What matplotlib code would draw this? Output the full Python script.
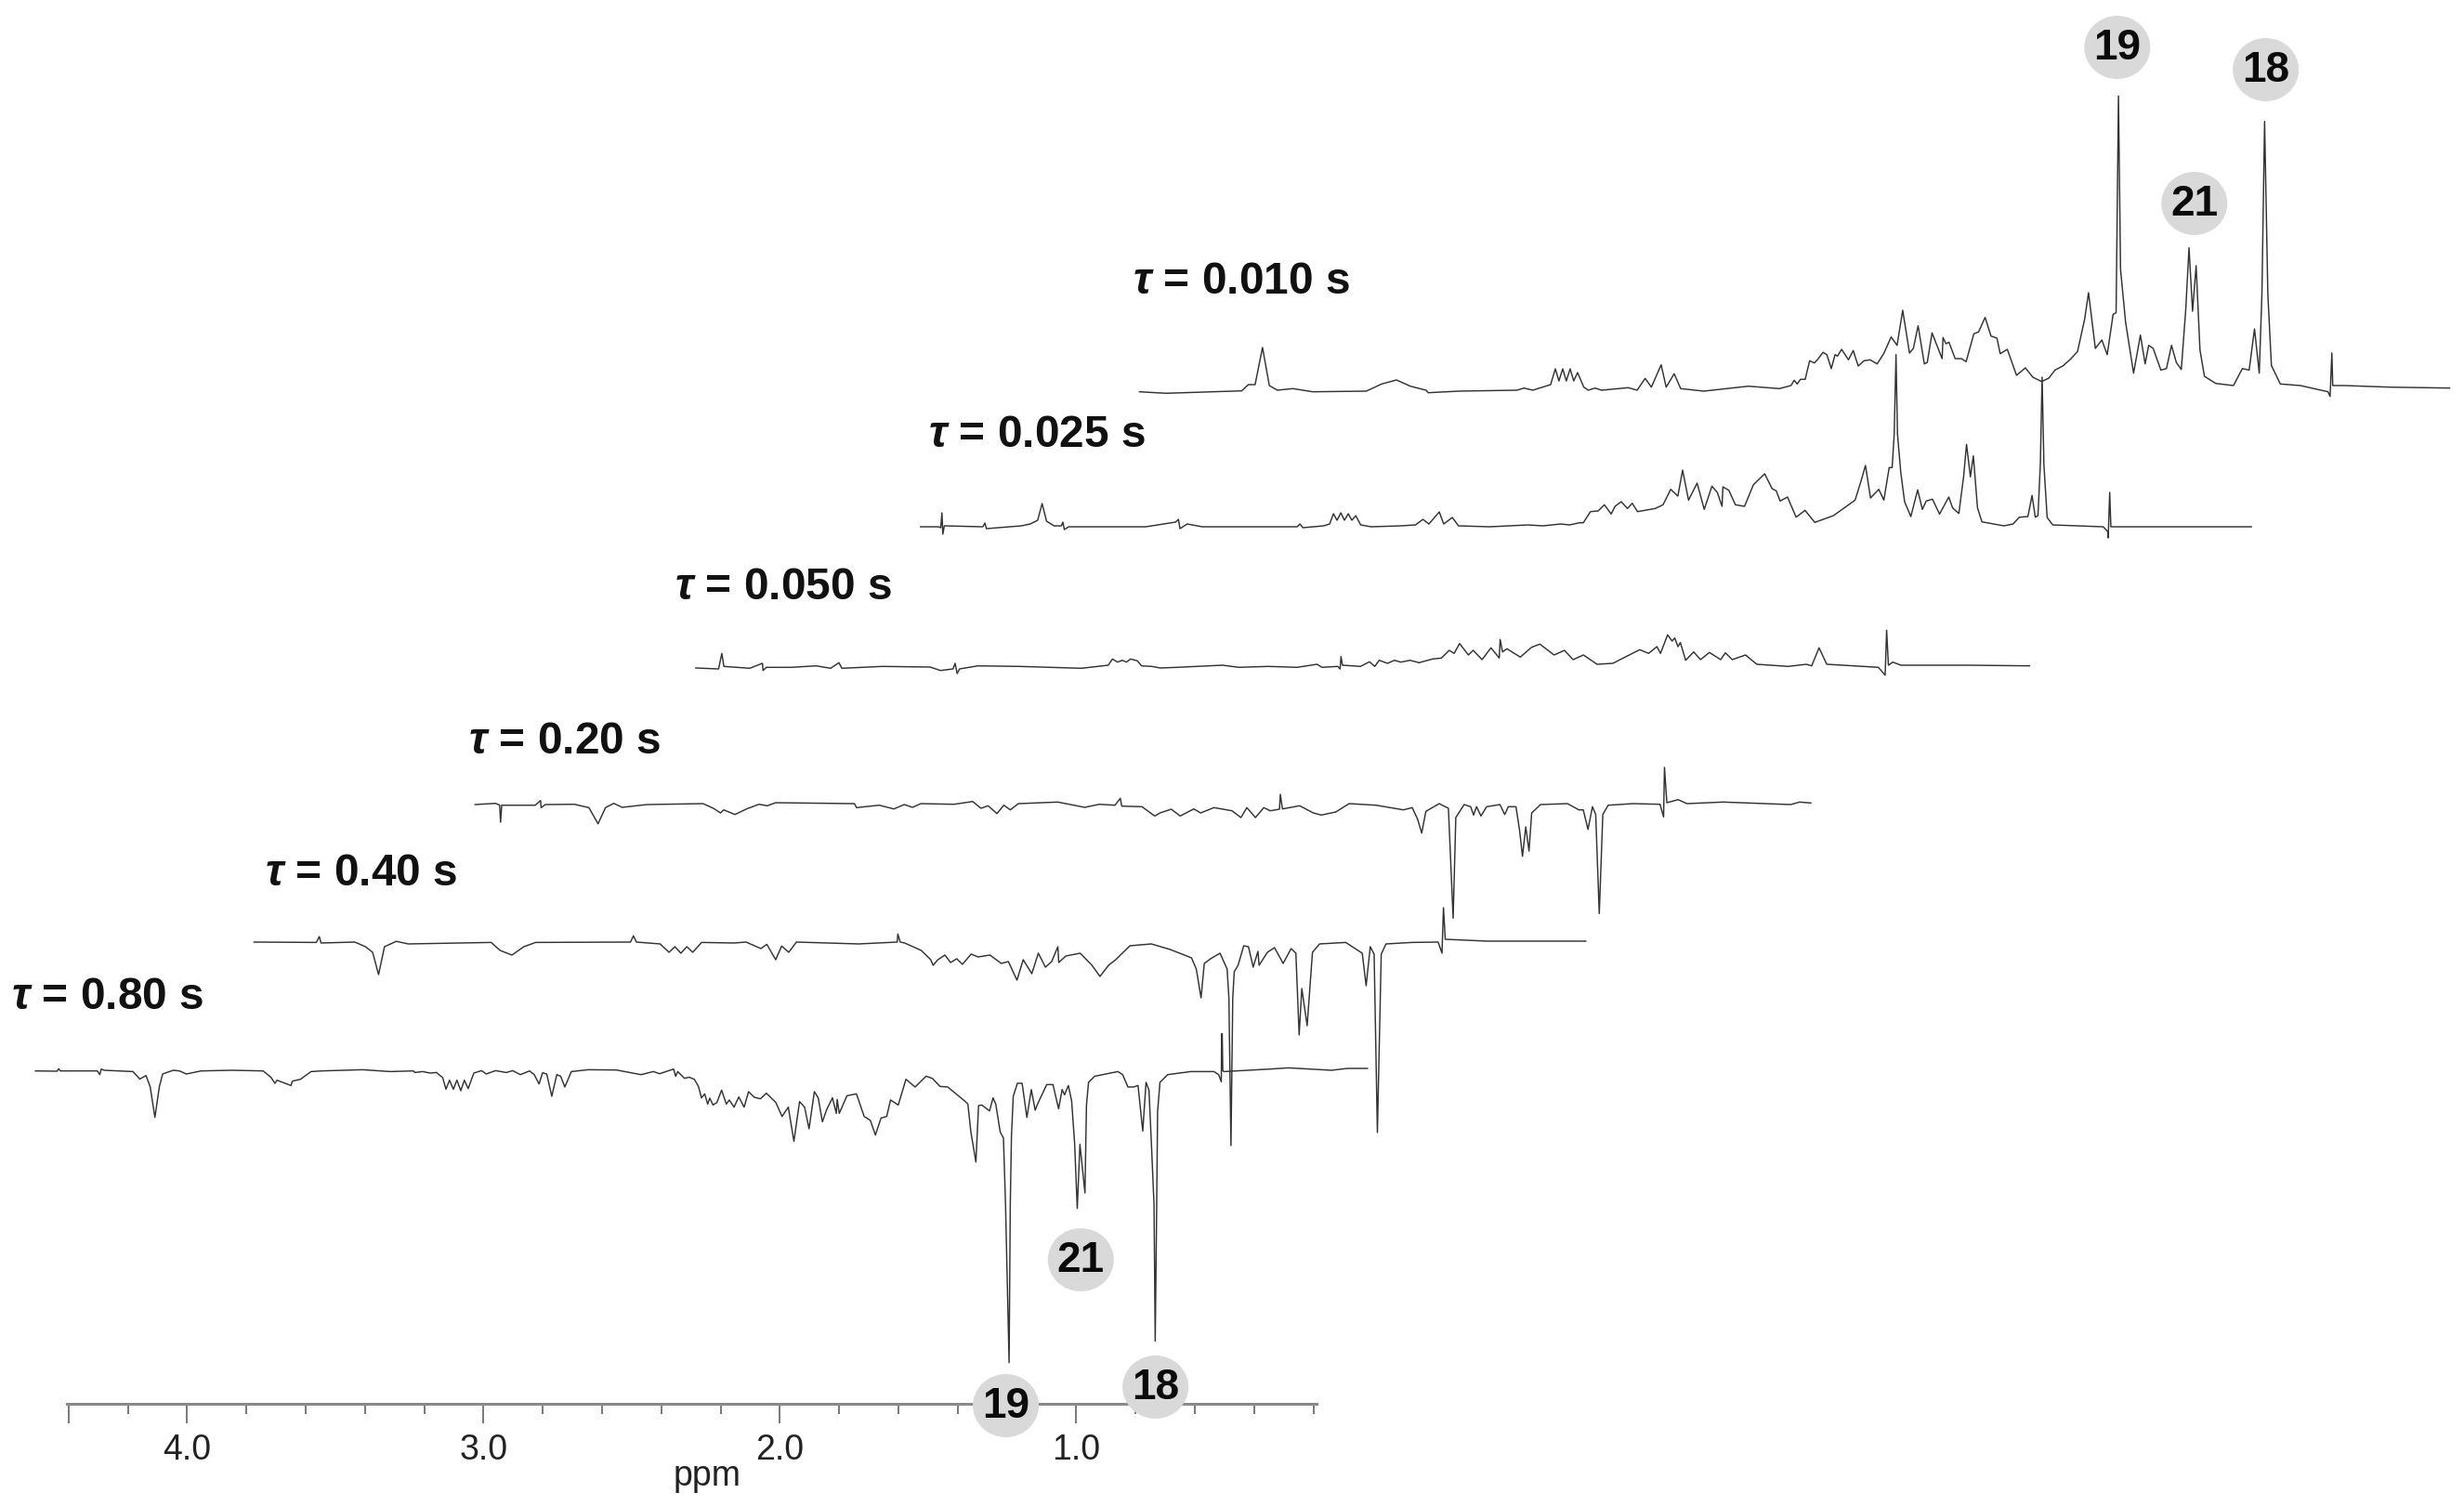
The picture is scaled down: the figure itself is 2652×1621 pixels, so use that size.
import numpy as np
import matplotlib
matplotlib.use('Agg')
import matplotlib.pyplot as plt
from matplotlib.patches import Ellipse

plt.rcParams['font.family'] = ['Liberation Sans', 'DejaVu Sans']
plt.rcParams['mathtext.fontset'] = 'custom'
plt.rcParams['mathtext.bfit'] = 'Liberation Sans:italic:bold'

# every trace is (ppm, intensity), ppm as it would read on the ruler for the front spectrum
spec_080 = [(4.512, 0), (4.439, -0.3), (4.434, 2.3), (4.428, 0), (4.303, 0), (4.295, -4), (4.290, 2), (4.280, 0.7),
            (4.183, -0.7), (4.160, -8.7), (4.139, -5), (4.125, -17), (4.109, -50), (4.094, -17), (4.083, -3.3),
            (4.047, 0.7), (4.026, 0), (4.003, -3.3), (3.953, 0), (3.848, 0.7), (3.744, 0), (3.718, -6.7),
            (3.704, -13.3), (3.697, -10), (3.650, -15.7), (3.645, -11), (3.618, -9), (3.582, -0.7), (3.545, 0),
            (3.409, 1.3), (3.315, -0.7), (3.237, 0), (3.232, -1.7), (3.206, -0.7), (3.180, -2.3), (3.159, -1.7),
            (3.138, -7.3), (3.127, -19.7), (3.115, -10), (3.102, -19.7), (3.090, -10), (3.077, -21.3), (3.065, -10),
            (3.052, -19), (3.033, -2.3), (3.007, 0.3), (2.991, -3.3), (2.960, 0.3), (2.923, -1.7), (2.902, 0.3),
            (2.876, -4), (2.845, 0), (2.829, -4), (2.813, -14), (2.801, -2), (2.787, -3.3), (2.770, -27.3),
            (2.753, -4), (2.740, -5.7), (2.726, -17.3), (2.704, -0.7), (2.646, 1.3), (2.552, 1), (2.469, -4),
            (2.427, -0.7), (2.406, -3), (2.359, 2), (2.352, -5.7), (2.345, -0.7), (2.322, -8), (2.307, -6.7),
            (2.289, -9), (2.275, -16.7), (2.265, -29), (2.254, -24.7), (2.244, -35.7), (2.237, -29.3), (2.226, -36.7),
            (2.213, -34), (2.197, -20.7), (2.181, -35.7), (2.171, -31.3), (2.155, -39), (2.139, -28), (2.121, -39),
            (2.106, -22.3), (2.087, -28.3), (2.066, -30), (2.046, -24), (2.014, -34), (1.993, -49), (1.972, -39),
            (1.953, -75.7), (1.934, -33), (1.917, -39), (1.902, -62.3), (1.884, -22.3), (1.871, -29), (1.857, -54.7),
            (1.842, -41.3), (1.823, -29), (1.810, -45.7), (1.807, -30.7), (1.800, -45.7), (1.774, -26.7),
            (1.742, -24.7), (1.716, -49), (1.695, -53.3), (1.678, -69), (1.659, -50.7), (1.640, -49), (1.627, -31.3),
            (1.601, -36.7), (1.575, -9), (1.544, -17.3), (1.507, -5.7), (1.486, -8), (1.460, -16.7), (1.434, -17.3),
            (1.377, -32.3), (1.366, -35.7), (1.356, -65.7), (1.339, -98), (1.330, -37.3), (1.319, -36.7),
            (1.293, -43), (1.281, -29), (1.272, -35.7), (1.257, -65.7), (1.246, -72.3), (1.239, -144), (1.227, -314),
            (1.223, -144), (1.219, -70), (1.213, -27.3), (1.199, -13.3), (1.183, -13.3), (1.167, -50), (1.152, -20),
            (1.139, -42.3), (1.131, -35.7), (1.100, -14.7), (1.079, -14.7), (1.060, -40.7), (1.048, -20),
            (1.040, -25.7), (1.027, -15.7), (1.016, -32.3), (1.006, -77.3), (0.997, -148), (0.988, -79),
            (0.971, -131.3), (0.966, -37.3), (0.959, -12.3), (0.938, -5.7), (0.860, -0.7), (0.844, -4), (0.826, -17.3),
            (0.807, -17.3), (0.792, -15.7), (0.776, -64.7), (0.765, -12.3), (0.755, -20.7), (0.747, -77),
            (0.738, -144), (0.734, -290.7), (0.729, -144), (0.726, -44), (0.718, -12.3), (0.692, -4), (0.614, -0.7),
            (0.536, -0.7), (0.520, -4), (0.511, -11.7), (0.510, 40), (0.508, 40), (0.506, 0), (0.501, -0.7),
            (0.347, 2), (0.285, 3.3), (0.139, 0.7), (0.086, 2.7), (0.018, 2.7)]

spec_040 = [(4.523, 0), (4.313, -0.4), (4.303, 5.9), (4.297, -1), (4.183, 0), (4.147, -5), (4.123, -11), (4.103, -35),
            (4.083, -5), (4.043, 0.8), (4.003, -2), (3.723, -0.4), (3.693, -9), (3.653, -14), (3.613, -5),
            (3.573, -0.4), (3.253, 0), (3.243, 6.7), (3.233, 0), (3.153, -2), (3.123, -11), (3.103, -5), (3.083, -12),
            (3.063, -5), (3.043, -11), (3.013, -0.4), (2.903, -1), (2.863, 0), (2.813, -7), (2.793, -2.4),
            (2.763, -19), (2.743, -4.3), (2.719, -11), (2.693, 0), (2.483, -2), (2.353, 0), (2.351, 8.7), (2.343, 0),
            (2.328, -1), (2.272, -9), (2.240, -19), (2.232, -25), (2.216, -19), (2.192, -14), (2.173, -22),
            (2.152, -18), (2.133, -24), (2.104, -13), (2.080, -16), (2.040, -14), (2.002, -23), (1.978, -21),
            (1.949, -41), (1.928, -19), (1.899, -34), (1.877, -12), (1.853, -27), (1.832, -21), (1.811, -5),
            (1.808, -22), (1.784, -15), (1.736, -12), (1.696, -25), (1.669, -37), (1.640, -25), (1.616, -19),
            (1.568, -4), (1.496, -2), (1.432, -8), (1.360, -17), (1.344, -29), (1.328, -60), (1.317, -23),
            (1.296, -18), (1.264, -12), (1.240, -29), (1.234, -60), (1.227, -219), (1.221, -60), (1.216, -32),
            (1.203, -25), (1.184, -4), (1.168, -5), (1.152, -27), (1.136, -10), (1.132, -25), (1.104, -11),
            (1.080, -6), (1.051, -23), (1.024, -7), (1.008, -12), (0.997, -100), (0.988, -50), (0.970, -90),
            (0.952, -11), (0.928, -2), (0.840, -0.4), (0.808, -7), (0.784, -12), (0.771, -47), (0.757, -5),
            (0.744, -13), (0.733, -205), (0.720, -13), (0.704, -2), (0.616, -0.4), (0.528, 0), (0.515, -12),
            (0.510, 37), (0.504, 3), (0.363, 1), (0.2, 1), (0.03, 1)]

spec_020 = [(4.526, 0), (4.457, 1.3), (4.443, -0.7), (4.440, -19), (4.436, -0.7), (4.323, -0.7), (4.305, 4.3),
            (4.303, -3.3), (4.289, 0), (4.191, 0.3), (4.142, -3.3), (4.111, -20.7), (4.086, -3.3), (4.058, 1.3),
            (4.030, -3), (3.946, 0), (3.757, 1), (3.722, -4), (3.698, -9), (3.687, -5.7), (3.649, -10.7),
            (3.610, -4.7), (3.568, 0.3), (3.540, -1.3), (3.512, 2), (3.246, 1), (3.239, -3.3), (3.162, -0.7),
            (3.113, -4.7), (3.078, 0), (3.050, -3), (3.022, 1), (2.910, 0.3), (2.847, 3.3), (2.819, -4), (2.795, -1.3),
            (2.765, -9.7), (2.742, -0.7), (2.720, -5.7), (2.693, 1), (2.560, 2.7), (2.469, -3), (2.420, 0.3),
            (2.367, -0.7), (2.349, 6.7), (2.344, -1.7), (2.276, -2.3), (2.233, -12.3), (2.215, -9), (2.177, -5),
            (2.147, -12.3), (2.101, -4.7), (2.078, -9), (2.033, -3.3), (1.972, -6.7), (1.942, -14), (1.922, -3.3),
            (1.893, -14), (1.865, -3.3), (1.843, -6.7), (1.812, -5), (1.809, 11), (1.802, -4.7), (1.744, -1.3),
            (1.698, -9), (1.671, -11.3), (1.622, -8), (1.577, 1), (1.486, -0.7), (1.394, -5.7), (1.364, -3.3),
            (1.346, -15.7), (1.332, -30.7), (1.318, -7.3), (1.273, 1), (1.242, -4), (1.226, -122.3), (1.217, -14),
            (1.189, 0), (1.167, -2.3), (1.157, -11.3), (1.147, -2.3), (1.132, -12.3), (1.113, -2.3), (1.068, 0),
            (1.052, -10.7), (1.040, -2.3), (1.014, -2.3), (1.002, -27.3), (0.992, -55.7), (0.981, -24), (0.970, -50),
            (0.961, -9), (0.931, 0), (0.840, 1), (0.802, -5.7), (0.787, -5.7), (0.771, -26.7), (0.756, -2.3),
            (0.745, -10.7), (0.733, -117.3), (0.721, -10.7), (0.703, -0.7), (0.619, 1), (0.528, 0.3), (0.516, -13.3),
            (0.513, 40), (0.505, 2), (0.467, 5.3), (0.437, 1), (0.315, 2.7), (0.087, 0), (0.057, 2.7), (0.019, 1.7)]

spec_0050 = [(4.530, 0), (4.453, -1), (4.442, 15.7), (4.435, 1.7), (4.348, -0.3), (4.305, 5), (4.303, -2.7), (4.292, 0.7),
             (4.208, 0.7), (4.124, 2.3), (4.075, -0.3), (4.047, 5.7), (4.037, -0.3), (3.900, 1.7), (3.739, 1),
             (3.704, -2.7), (3.662, -1), (3.655, 5), (3.648, -6), (3.640, -1), (3.578, 2.3), (3.439, 1.7), (3.229, -0.3),
             (3.138, 3), (3.124, 9.7), (3.107, 6.3), (3.091, 8.3), (3.077, 6.3), (3.063, 9.7), (3.040, 7.7),
             (3.026, 2.3), (2.991, 1.7), (2.963, 0), (2.907, 0.7), (2.753, 3), (2.697, 0.7), (2.599, 1.7), (2.501, 0.7),
             (2.434, 4), (2.417, 0.7), (2.364, 1.7), (2.356, -1), (2.353, 12.3), (2.348, 3), (2.287, 1.7), (2.257, 6.7),
             (2.239, 1.7), (2.224, 8.3), (2.196, 5), (2.173, 8.3), (2.151, 6.3), (2.120, 8.3), (2.090, 5.7),
             (2.044, 9.7), (2.014, 10.7), (1.988, 19), (1.971, 15.7), (1.953, 26.3), (1.923, 14), (1.907, 19),
             (1.877, 9), (1.847, 21.7), (1.819, 10.7), (1.816, 30.7), (1.808, 17.3), (1.793, 20.7), (1.748, 11.7),
             (1.710, 22.3), (1.682, 25.7), (1.634, 14), (1.599, 19), (1.570, 9), (1.535, 14), (1.489, 4), (1.436, 5),
             (1.345, 19.7), (1.315, 15.7), (1.287, 23), (1.275, 15.7), (1.251, 35.7), (1.236, 29), (1.227, 32.3),
             (1.216, 23), (1.208, 27.3), (1.190, 8.3), (1.163, 17.3), (1.140, 9), (1.110, 16.7), (1.072, 9),
             (1.056, 16.3), (1.033, 9), (0.988, 14), (0.950, 4), (0.844, 1.7), (0.783, 4), (0.765, 2.3), (0.740, 21.7),
             (0.714, 4), (0.623, 2.3), (0.540, 0.7), (0.517, -7.7), (0.512, 40.7), (0.506, 3), (0.491, 6.3),
             (0.464, 3), (0.236, 3), (0.030, 2.3)]

spec_0025 = [(4.52, 0), (4.46, 0), (4.452, -1), (4.448, 15), (4.445, -8), (4.44, 1), (4.31, 0), (4.303, 4), (4.298, -2),
             (4.18, 1), (4.15, 3), (4.125, 7), (4.11, 25), (4.095, 6), (4.07, 1), (4.045, 1), (4.04, 5), (4.035, -3),
             (4.02, 0), (3.76, 0), (3.70, 3), (3.66, 5), (3.65, 8), (3.645, -2), (3.62, 3), (3.57, 0), (3.25, 0),
             (3.24, 3), (3.23, -1), (3.16, 1), (3.14, 3), (3.127, 14), (3.115, 7), (3.102, 15), (3.09, 7), (3.077, 14),
             (3.065, 7), (3.052, 12), (3.035, 2), (3.0, 0), (2.9, 1), (2.85, 2), (2.825, 8), (2.805, 3), (2.77, 16),
             (2.755, 3), (2.726, 10), (2.705, 1), (2.6, 0), (2.47, 2), (2.42, 1), (2.36, 3), (2.33, 2),
             (2.297, 4.3), (2.284, 4.3), (2.260, 16.3), (2.234, 17), (2.213, 23.7), (2.190, 13.7), (2.177, 22),
             (2.156, 27), (2.135, 19.7), (2.119, 25.3), (2.101, 16.3), (2.041, 19.7), (2.015, 23.7), (1.989, 40.3),
             (1.965, 33), (1.949, 61), (1.929, 28.7), (1.900, 47), (1.876, 18.7), (1.850, 43.7), (1.832, 37),
             (1.816, 22), (1.813, 43), (1.793, 39.3), (1.771, 23.7), (1.740, 22), (1.710, 45.3), (1.672, 57),
             (1.647, 41), (1.633, 38.7), (1.620, 27.7), (1.595, 32), (1.566, 10.3), (1.536, 17.7), (1.503, 4.7),
             (1.440, 12), (1.367, 28.7), (1.346, 50.3), (1.332, 66), (1.315, 31), (1.287, 40.3), (1.270, 28.7),
             (1.252, 63.7), (1.242, 63.7), (1.235, 100), (1.229, 185.3), (1.224, 100), (1.213, 58.7), (1.200, 27),
             (1.179, 11), (1.156, 39.7), (1.140, 18.7), (1.127, 27.7), (1.106, 29.7), (1.082, 13.7), (1.051, 32),
             (1.038, 20.3), (1.017, 14.3), (1.001, 53.7), (0.991, 88.7), (0.978, 53.7), (0.968, 76.3), (0.954, 20.3),
             (0.939, 5.3), (0.865, 1), (0.834, 3), (0.813, 10.3), (0.784, 11), (0.770, 33.7), (0.759, 10.3),
             (0.750, 12), (0.742, 67), (0.736, 161), (0.730, 67), (0.719, 10), (0.70, 2), (0.53, 0), (0.515, -5),
             (0.513, -12), (0.508, 37), (0.504, 0), (0.4, 0), (0.03, 0)]

spec_0010 = [(4.530, -0.7), (4.440, -2.3), (4.185, 0.3), (4.163, 7), (4.140, 7), (4.115, 47), (4.092, 6), (4.065, 1),
             (4.013, 2.7), (3.945, -0.7), (3.765, 0), (3.713, 7.7), (3.663, 12), (3.616, 5.3), (3.563, 1), (3.556, -1.7),
             (3.451, 0), (3.256, 1), (3.233, 3.3), (3.203, 1), (3.143, 7), (3.127, 24), (3.115, 11), (3.102, 24),
             (3.090, 11), (3.077, 24), (3.065, 11), (3.052, 20), (3.031, 4.3), (3.016, 1), (2.993, 3.3), (2.971, 1),
             (2.881, 3.7), (2.851, 1), (2.824, 13.7), (2.803, 4.3), (2.770, 28.3), (2.753, 4.3), (2.726, 18.7),
             (2.704, 2.7), (2.626, 0), (2.476, 5.3), (2.371, 2.7), (2.332, 6), (2.321, 11.7), (2.311, 7.7), (2.300, 12.7),
             (2.284, 12.7), (2.269, 32.7), (2.253, 30.3), (2.243, 33.7), (2.224, 41.7), (2.211, 39.3), (2.196, 24.3),
             (2.183, 39.3), (2.175, 37.7), (2.161, 45), (2.138, 33.7), (2.122, 43.7), (2.105, 27), (2.086, 32.7),
             (2.065, 33.7), (2.041, 29.3), (2.018, 41), (1.994, 58.3), (1.974, 49.3), (1.955, 87), (1.932, 41),
             (1.919, 46), (1.903, 70.3), (1.882, 29.3), (1.872, 31), (1.856, 62.7), (1.822, 35), (1.819, 57.7),
             (1.809, 51), (1.799, 52.7), (1.778, 35), (1.757, 35), (1.741, 31.7), (1.715, 61.7), (1.699, 63.7),
             (1.677, 79.3), (1.657, 59.3), (1.637, 57), (1.626, 40.3), (1.602, 45), (1.571, 17), (1.541, 25), (1.516, 15),
             (1.486, 10.3), (1.462, 14), (1.441, 22.7), (1.415, 27), (1.390, 34), (1.365, 42.7), (1.341, 77.7), (1.328, 106),
             (1.305, 46), (1.283, 55),
             (1.265, 39.3), (1.245, 82.7), (1.235, 84.3), (1.227, 317.7), (1.220, 131), (1.203, 74.3), (1.176, 19.3),
             (1.153, 60.3), (1.137, 29.3), (1.125, 49.3), (1.110, 46), (1.084, 22.7), (1.065, 24.3), (1.048, 49.3),
             (1.032, 31), (1.015, 23.3), (1.000, 87.7), (0.989, 154.3), (0.977, 86), (0.965, 135), (0.952, 44.3),
             (0.937, 16), (0.899, 8.3), (0.839, 6), (0.809, 24.3), (0.786, 22.7), (0.768, 67), (0.752, 19.3),
             (0.743, 104.3), (0.734, 290.3), (0.723, 104.3), (0.711, 27.7), (0.681, 7.7), (0.613, 6), (0.520, -0.7),
             (0.513, -5.7), (0.507, 41), (0.504, 6), (0.463, 6), (0.313, 4.3), (0.110, 3.3)]

spectra = [spec_080, spec_040, spec_020, spec_0050, spec_0025, spec_0010]
baselines = [1152.7, 1014, 866, 719, 567, 421]
stack_step = 0.7486  # ppm between one spectrum and the next

tau_labels = ['0.80', '0.40', '0.20', '0.050', '0.025', '0.010']
tau_x = [4.595, 3.737, 3.052, 2.357, 1.499, 0.809]
tau_y = [1086, 953, 811, 645, 481, 315.5]

major_ticks = [4.4, 4.0, 3.0, 2.0, 1.0]
major_labels = ['', '4.0', '3.0', '2.0', '1.0']
minor_ticks = [4.2, 3.8, 3.6, 3.4, 3.2, 2.8, 2.6, 2.4, 2.2, 1.8, 1.6, 1.4, 1.2, 0.8, 0.6, 0.4, 0.2]

peak_names = ['19', '18', '21', '19', '18', '21']
peak_x = [1.238, 0.733, 0.985, -2.512, -3.013, -2.772]
peak_y = [1513, 1493, 1356, 51, 75, 219]

fig = plt.figure(figsize=(26.52, 16.21), dpi=100)
ax = fig.add_axes([0, 0, 1, 1])
ppm_per_px = 1 / 319
ax.set_xlim(1 + 1158.5 * ppm_per_px, 1 - (2652 - 1158.5) * ppm_per_px)
ax.set_ylim(1621, 0)

for i, spec in enumerate(spectra):
    p, h = np.array(spec).T
    ax.plot(p - i * stack_step, baselines[i] - h, color='#333333', lw=1.05, solid_joinstyle='round', zorder=2)
    ax.text(tau_x[i], tau_y[i], r'$\mathbfit{\tau}$ = ' + tau_labels[i] + ' s', fontsize=34.5, fontweight='bold',
            ha='left', va='baseline', color='#111111')

# ppm ruler
for side in ['top', 'left', 'right']:
    ax.spines[side].set_visible(False)
ax.spines['bottom'].set_position(('data', 1511))
ax.spines['bottom'].set_bounds(4.406, 0.19)
ax.spines['bottom'].set_color('#8a8a8a')
ax.spines['bottom'].set_linewidth(2.2)
ax.set_yticks([])
ax.set_xticks(major_ticks)
ax.set_xticklabels(major_labels)
ax.set_xticks(minor_ticks, minor=True)
ax.tick_params(axis='x', which='major', length=15, width=1.1, color='#555555', labelsize=27, pad=8, labelcolor='#222222')
ax.tick_params(axis='x', which='minor', length=8, width=1.1, color='#555555')
ax.text(2.245, 1589, 'ppm', fontsize=27, ha='center', va='center', color='#222222')

# assignment badges
for name, px, py in zip(peak_names, peak_x, peak_y):
    ax.add_patch(Ellipse((px, py), 71 * ppm_per_px, 68, facecolor='#d9d9d9', edgecolor='none', zorder=3))
    ax.text(px, py + 1, name, fontsize=33, fontweight='bold', ha='center', va='center', color='#0a0a0a', zorder=4)

fig.savefig('out.png', dpi=100, facecolor='white')
